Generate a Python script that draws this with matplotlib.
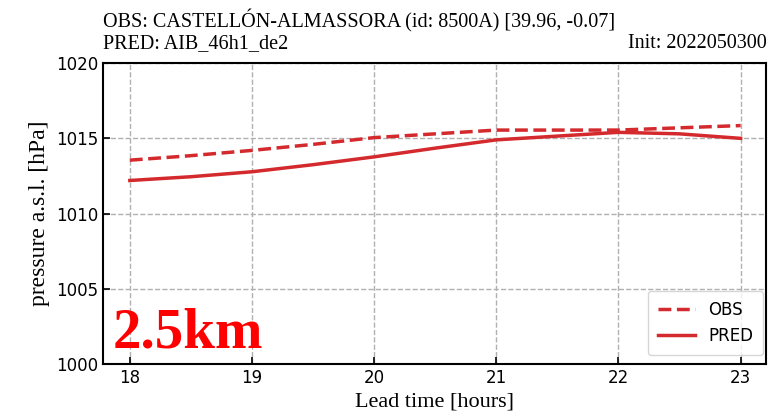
import matplotlib
matplotlib.use("Agg")
import matplotlib.pyplot as plt

lead = [18, 18.5, 19, 19.5, 20, 20.5, 21, 21.5, 22, 22.5, 23]
obs = [1013.55, 1013.85, 1014.2, 1014.6, 1015.05, 1015.3, 1015.55, 1015.55, 1015.55, 1015.7, 1015.85]
pred = [1012.2, 1012.45, 1012.78, 1013.25, 1013.77, 1014.35, 1014.9, 1015.15, 1015.4, 1015.3, 1015.0]
yticks = [1000, 1005, 1010, 1015, 1020]
xticks = [18, 19, 20, 21, 22, 23]

red = "#d42a2e"
serif = ["Liberation Serif", "DejaVu Serif"]

fig = plt.figure(figsize=(7.74, 4.18), dpi=100)
ax = fig.add_axes([0.133, 0.129, 0.857, 0.72])

ax.plot(lead, obs, color=red, lw=2.5, ls="--", label="OBS")
ax.plot(lead, pred, color=red, lw=2.5, ls="-", label="PRED")

ax.set_xlim(17.78, 23.21)
ax.set_ylim(1000, 1020)
ax.set_xticks(xticks)
ax.set_yticks(yticks)
ax.tick_params(direction="in", labelsize=12, length=5, width=1.2)
ax.grid(True, ls="--", color="#b0b0b0", lw=1)
for s in ax.spines.values():
    s.set_linewidth(1.5)

ax.set_ylabel("pressure a.s.l. [hPa]", fontsize=17, family=serif, labelpad=4)
ax.set_xlabel("Lead time [hours]", fontsize=16, family=serif, labelpad=4)

ax.legend(loc="lower right", fontsize=12, handlelength=2.2, borderpad=0.6,
          borderaxespad=0, bbox_to_anchor=(0.995, 0.03))

ax.text(0.015, 0.055, "2.5km", transform=ax.transAxes, color="red",
        fontsize=41, fontweight="bold", family=serif)

fig.text(0.133, 0.935, "OBS: CASTELLÓN-ALMASSORA (id: 8500A) [39.96, -0.07]",
         fontsize=14.5, family=serif, va="baseline")
fig.text(0.133, 0.885, "PRED: AIB_46h1_de2", fontsize=14.5, family=serif, va="baseline")
fig.text(0.99, 0.885, "Init: 2022050300", fontsize=14.5, family=serif, va="baseline", ha="right")

fig.savefig("out.png", dpi=100)
